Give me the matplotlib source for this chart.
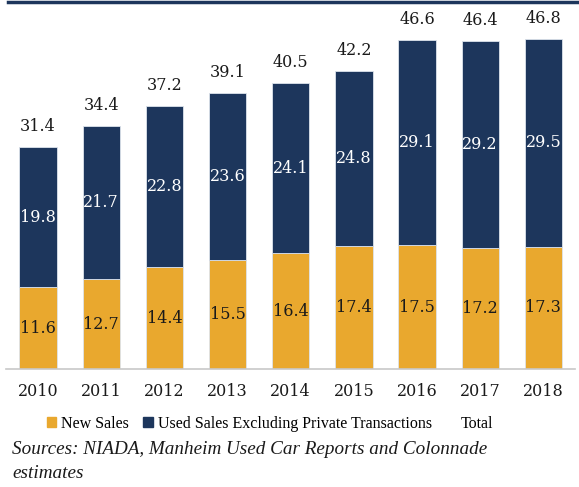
import matplotlib
matplotlib.use('Agg')
import matplotlib.pyplot as plt
from matplotlib.patches import Patch
from matplotlib.lines import Line2D

years = ['2010', '2011', '2012', '2013', '2014', '2015', '2016', '2017', '2018']
new_sales = [11.6, 12.7, 14.4, 15.5, 16.4, 17.4, 17.5, 17.2, 17.3]
used_sales = [19.8, 21.7, 22.8, 23.6, 24.1, 24.8, 29.1, 29.2, 29.5]
totals = [31.4, 34.4, 37.2, 39.1, 40.5, 42.2, 46.6, 46.4, 46.8]

orange = '#E9A82E'
navy = '#1D365C'

plt.rcParams['font.family'] = ['DejaVu Serif']

fig = plt.figure(figsize=(5.79, 4.87), dpi=100)
ax = fig.add_axes([6.4 / 579, (487 - 369) / 487, (575 - 6.4) / 579, 353 / 487])

x = list(range(len(years)))
ax.bar(x, new_sales, width=0.59, color=orange, edgecolor='#dde3ec', linewidth=0.6)
ax.bar(x, used_sales, width=0.59, bottom=new_sales, color=navy, edgecolor='#dde3ec', linewidth=0.6)

for i in x:
    ax.text(i, new_sales[i] / 2, '%.1f' % new_sales[i], ha='center', va='center',
            fontsize=11.5, color='#1a1a1a')
    ax.text(i, new_sales[i] + used_sales[i] / 2, '%.1f' % used_sales[i], ha='center',
            va='center', fontsize=11.5, color='white')
    ax.text(i, totals[i] + 2.9, '%.1f' % totals[i], ha='center', va='center',
            fontsize=11.5, color='#1a1a1a')

ax.set_xlim(-0.5, 8.5)
ax.set_ylim(0, 50)
ax.set_xticks(x)
ax.set_xticklabels(years, fontsize=11.5, color='#1a1a1a')
ax.tick_params(axis='x', length=0, pad=10)
ax.set_yticks([])
for s in ['top', 'right', 'left']:
    ax.spines[s].set_visible(False)
ax.spines['bottom'].set_color('#c8c8c8')
ax.spines['bottom'].set_linewidth(1.2)

handles = [Patch(color=orange), Patch(color=navy), Line2D([], [], color='none')]
labels = ['New Sales', 'Used Sales Excluding Private Transactions', 'Total']
fig.legend(handles, labels, loc='center', bbox_to_anchor=(270 / 579, 1 - 424 / 487),
           ncol=3, frameon=False, prop={'family': 'Liberation Serif', 'size': 11.5},
           handlelength=0.6, handleheight=0.6, handletextpad=0.3, columnspacing=0.9)

fig.text(12 / 579, 1 - 450 / 487, 'Sources: NIADA, Manheim Used Car Reports and Colonnade',
         fontsize=13.8, style='italic', family='Liberation Serif', ha='left', va='center',
         color='#1a1a1a')
fig.text(12 / 579, 1 - 473 / 487, 'estimates',
         fontsize=13.8, style='italic', family='Liberation Serif', ha='left', va='center',
         color='#1a1a1a')

fig.add_artist(Line2D([8 / 579, 577 / 579], [1 - 1.5 / 487, 1 - 1.5 / 487],
                      transform=fig.transFigure, color=navy, linewidth=2.5))

fig.savefig('out.png', dpi=100)
